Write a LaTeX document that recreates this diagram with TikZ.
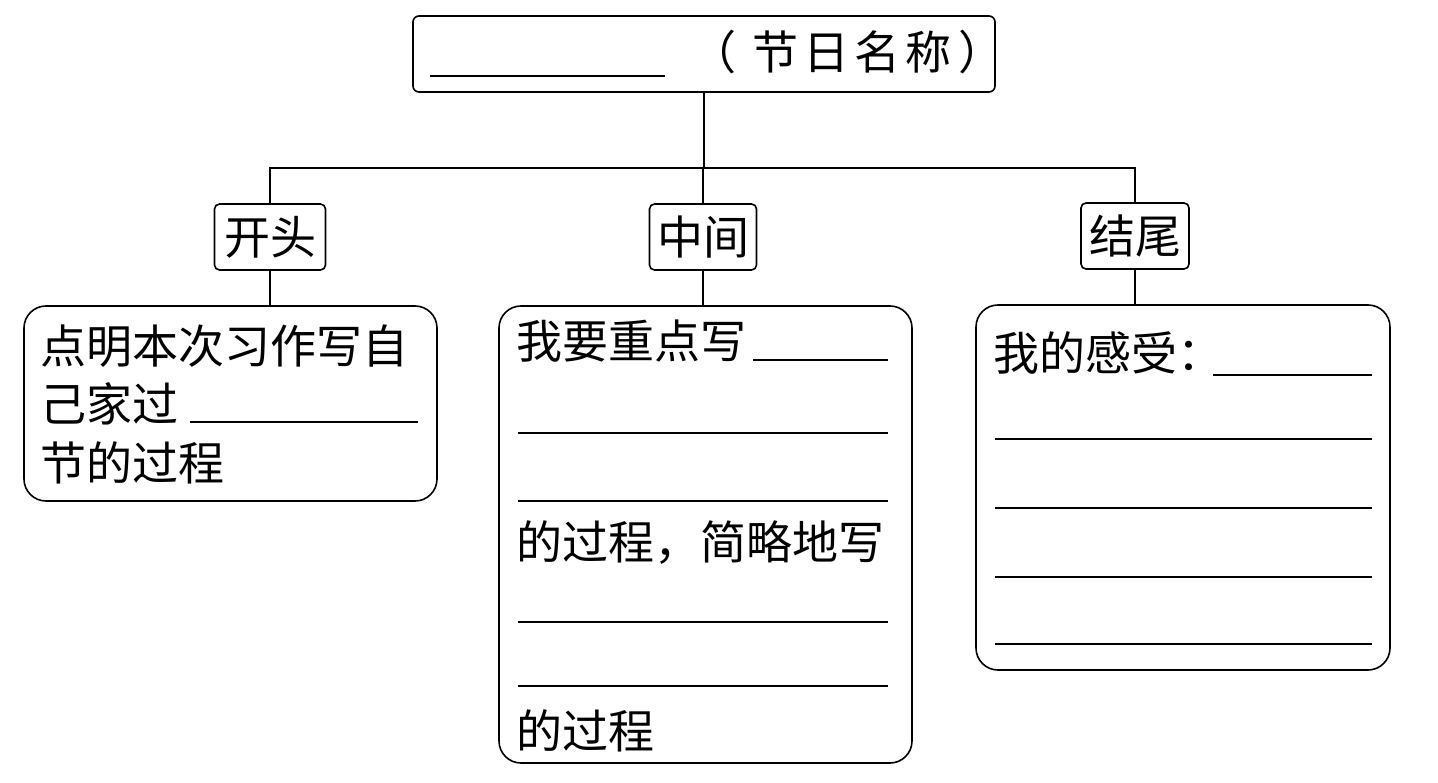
\documentclass[tikz,border=0pt]{standalone}
\usepackage{fontspec}
\newfontfamily\cjk{Noto Sans CJK SC}
\tikzset{
  frame/.style={draw, line width=1.6pt, inner sep=0pt},
  smallbox/.style={frame, rounded corners=5pt, minimum height=66pt, font=\cjk\fontsize{46}{46}\selectfont, text height=40.5pt, text depth=5.5pt},
  bigbox/.style={frame, rounded corners=22pt},
  row/.style={anchor=base west, inner sep=0pt, font=\cjk\fontsize{46}{46}\selectfont},
  blank/.style={line width=1.4pt},
  link/.style={line width=1.6pt}
}
\begin{document}
\begin{tikzpicture}[x=1pt,y=-1pt]
\useasboundingbox (0,0) rectangle (1438,783);
\fill[white] (0,0) rectangle (1438,783);

% title box
\node[frame, rounded corners=6pt, minimum width=582pt, minimum height=76pt] (top) at (704,54) {};
\draw[blank] (430,76) -- (665,76);
\node[row] (title) at (690,70) {（\hspace{16pt}节\hspace{5pt}日\hspace{5pt}名\hspace{5pt}称\hspace{7pt}）};

% section boxes
\node[smallbox, minimum width=111pt] (kaitou) at (270,237) {开头};
\node[smallbox, minimum width=107pt] (zhongjian) at (703,237) {中间};
\node[smallbox, minimum width=108pt] (jiewei) at (1135,236) {结尾};

% content boxes
\node[bigbox, minimum width=413pt, minimum height=195pt] (left) at (230.5,403.5) {};
\node[bigbox, minimum width=413pt, minimum height=457pt] (mid) at (705.5,534.5) {};
\node[bigbox, minimum width=414pt, minimum height=365pt] (right) at (1183,487.5) {};

% connectors
\coordinate (bus) at (0,168);
\draw[link] (top.south) -- (top.south |- bus);
\draw[link] (kaitou.north) -- (kaitou.north |- bus) -- (jiewei.north |- bus) -- (jiewei.north);
\draw[link] (zhongjian.north) -- (zhongjian.north |- bus);
\draw[link] (kaitou.south) -- (kaitou.south |- left.north);
\draw[link] (zhongjian.south) -- (zhongjian.south |- mid.north);
\draw[link] (jiewei.south) -- (jiewei.south |- right.north);

% left box text
\node[row] (l1) at (40,364) {点明本次习作写自};
\node[row] (l2) at (40,422) {己家过};
\draw[blank] (190,422) -- (418,422);
\node[row] (l3) at (40,480) {节的过程};

% middle box text
\node[row] (m1) at (516,359) {我要重点写};
\draw[blank] (753,360) -- (888,360);
\draw[blank] (518,433) -- (888,433);
\draw[blank] (518,501) -- (888,501);
\node[row] (m2) at (516,559) {的过程，简略地写};
\draw[blank] (518,622) -- (888,622);
\draw[blank] (518,686) -- (888,686);
\node[row] (m3) at (516,748) {的过程};

% right box text
\node[row] (r1) at (993,371) {我的感受：};
\draw[blank] (1213,375) -- (1372,375);
\draw[blank] (995,439) -- (1372,439);
\draw[blank] (995,508) -- (1372,508);
\draw[blank] (995,577) -- (1372,577);
\draw[blank] (995,644) -- (1372,644);
\end{tikzpicture}
\end{document}
